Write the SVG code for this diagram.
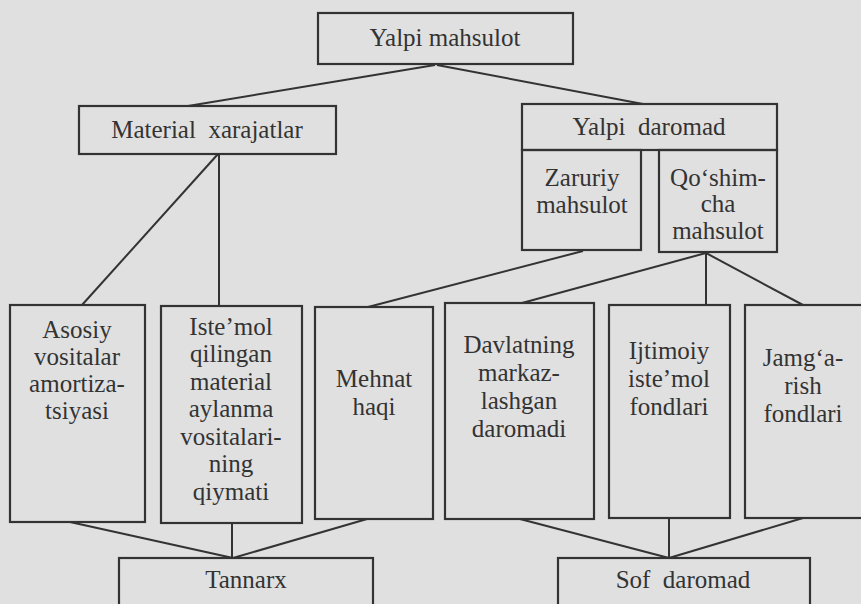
<svg xmlns="http://www.w3.org/2000/svg" width="861" height="604" viewBox="0 0 861 604" font-family="Liberation Serif">
<style>
.box{fill:none;stroke:#333;stroke-width:2.2}
.ln{fill:none;stroke:#333;stroke-width:2}
</style>
<rect x="0" y="0" width="861" height="604" fill="#e0e0e0"/>
<g id="connectors">
<path class="ln" d="M435 65 L188 106"/>
<path class="ln" d="M437 65 L643 104"/>
<path class="ln" d="M218 154 L82 305"/>
<path class="ln" d="M219 154 L219 306"/>
<path class="ln" d="M583 251 L368 307"/>
<path class="ln" d="M706 253 L522 303"/>
<path class="ln" d="M706 253 L706 305"/>
<path class="ln" d="M706 253 L803 305"/>
<path class="ln" d="M70 522 L233 558"/>
<path class="ln" d="M232 523 L232 558"/>
<path class="ln" d="M367 519 L233 558"/>
<path class="ln" d="M520 519 L669 558"/>
<path class="ln" d="M669 518 L669 558"/>
<path class="ln" d="M803 518 L669 558"/>
</g>
<g id="yalpi-mahsulot"><rect class="box" x="318" y="13" width="255" height="51"/><text style="font-family:'Liberation Serif',serif;font-size:25px" fill="#333" text-anchor="middle" x="445" y="46">Yalpi mahsulot</text></g>
<g id="material-xarajatlar"><rect class="box" x="79" y="106" width="257" height="48"/><text style="font-family:'Liberation Serif',serif;font-size:25px" fill="#333" text-anchor="middle" x="207" y="138" xml:space="preserve">Material  xarajatlar</text></g>
<g id="yalpi-daromad"><rect class="box" x="522" y="104" width="255" height="46"/><text style="font-family:'Liberation Serif',serif;font-size:25px" fill="#333" text-anchor="middle" x="649" y="135" xml:space="preserve">Yalpi  daromad</text></g>
<g id="zaruriy-mahsulot"><rect class="box" x="522" y="150" width="119" height="100"/><text style="font-family:'Liberation Serif',serif;font-size:25px" fill="#333" text-anchor="middle" x="582" y="186">Zaruriy</text><text style="font-family:'Liberation Serif',serif;font-size:25px" fill="#333" text-anchor="middle" x="582" y="213">mahsulot</text></g>
<g id="qoshimcha-mahsulot"><rect class="box" x="659" y="150" width="118" height="102"/><text style="font-family:'Liberation Serif',serif;font-size:25px" fill="#333" text-anchor="middle" x="718" y="186">Qo‘shim-</text><text style="font-family:'Liberation Serif',serif;font-size:25px" fill="#333" text-anchor="middle" x="718" y="212">cha</text><text style="font-family:'Liberation Serif',serif;font-size:25px" fill="#333" text-anchor="middle" x="718" y="239">mahsulot</text></g>
<g id="asosiy"><rect class="box" x="10" y="305" width="135" height="217"/><text style="font-family:'Liberation Serif',serif;font-size:25px" fill="#333" text-anchor="middle" x="77" y="338">Asosiy</text><text style="font-family:'Liberation Serif',serif;font-size:25px" fill="#333" text-anchor="middle" x="77" y="365">vositalar</text><text style="font-family:'Liberation Serif',serif;font-size:25px" fill="#333" text-anchor="middle" x="77" y="392">amortiza-</text><text style="font-family:'Liberation Serif',serif;font-size:25px" fill="#333" text-anchor="middle" x="77" y="419">tsiyasi</text></g>
<g id="istemol"><rect class="box" x="161" y="306" width="141" height="217"/><text style="font-family:'Liberation Serif',serif;font-size:25px" fill="#333" text-anchor="middle" x="231" y="335">Iste’mol</text><text style="font-family:'Liberation Serif',serif;font-size:25px" fill="#333" text-anchor="middle" x="231" y="362">qilingan</text><text style="font-family:'Liberation Serif',serif;font-size:25px" fill="#333" text-anchor="middle" x="231" y="390">material</text><text style="font-family:'Liberation Serif',serif;font-size:25px" fill="#333" text-anchor="middle" x="231" y="417">aylanma</text><text style="font-family:'Liberation Serif',serif;font-size:25px" fill="#333" text-anchor="middle" x="231" y="445">vositalari-</text><text style="font-family:'Liberation Serif',serif;font-size:25px" fill="#333" text-anchor="middle" x="231" y="472">ning</text><text style="font-family:'Liberation Serif',serif;font-size:25px" fill="#333" text-anchor="middle" x="231" y="500">qiymati</text></g>
<g id="mehnat-haqi"><rect class="box" x="315" y="307" width="118" height="212"/><text style="font-family:'Liberation Serif',serif;font-size:25px" fill="#333" text-anchor="middle" x="374" y="387">Mehnat</text><text style="font-family:'Liberation Serif',serif;font-size:25px" fill="#333" text-anchor="middle" x="374" y="415">haqi</text></g>
<g id="davlatning"><rect class="box" x="445" y="303" width="149" height="216"/><text style="font-family:'Liberation Serif',serif;font-size:25px" fill="#333" text-anchor="middle" x="519" y="353">Davlatning</text><text style="font-family:'Liberation Serif',serif;font-size:25px" fill="#333" text-anchor="middle" x="519" y="381">markaz-</text><text style="font-family:'Liberation Serif',serif;font-size:25px" fill="#333" text-anchor="middle" x="519" y="409">lashgan</text><text style="font-family:'Liberation Serif',serif;font-size:25px" fill="#333" text-anchor="middle" x="519" y="437">daromadi</text></g>
<g id="ijtimoiy"><rect class="box" x="609" y="305" width="121" height="213"/><text style="font-family:'Liberation Serif',serif;font-size:25px" fill="#333" text-anchor="middle" x="669" y="359">Ijtimoiy</text><text style="font-family:'Liberation Serif',serif;font-size:25px" fill="#333" text-anchor="middle" x="669" y="387">iste’mol</text><text style="font-family:'Liberation Serif',serif;font-size:25px" fill="#333" text-anchor="middle" x="669" y="415">fondlari</text></g>
<g id="jamgarish"><rect class="box" x="745" y="305" width="125" height="213"/><text style="font-family:'Liberation Serif',serif;font-size:25px" fill="#333" text-anchor="middle" x="803" y="366">Jamg‘a-</text><text style="font-family:'Liberation Serif',serif;font-size:25px" fill="#333" text-anchor="middle" x="803" y="394">rish</text><text style="font-family:'Liberation Serif',serif;font-size:25px" fill="#333" text-anchor="middle" x="803" y="422">fondlari</text></g>
<g id="tannarx"><rect class="box" x="119" y="558" width="254" height="60"/><text style="font-family:'Liberation Serif',serif;font-size:25px" fill="#333" text-anchor="middle" x="246" y="588">Tannarx</text></g>
<g id="sof-daromad"><rect class="box" x="558" y="558" width="252" height="60"/><text style="font-family:'Liberation Serif',serif;font-size:25px" fill="#333" text-anchor="middle" x="683" y="588" xml:space="preserve">Sof  daromad</text></g>
</svg>
